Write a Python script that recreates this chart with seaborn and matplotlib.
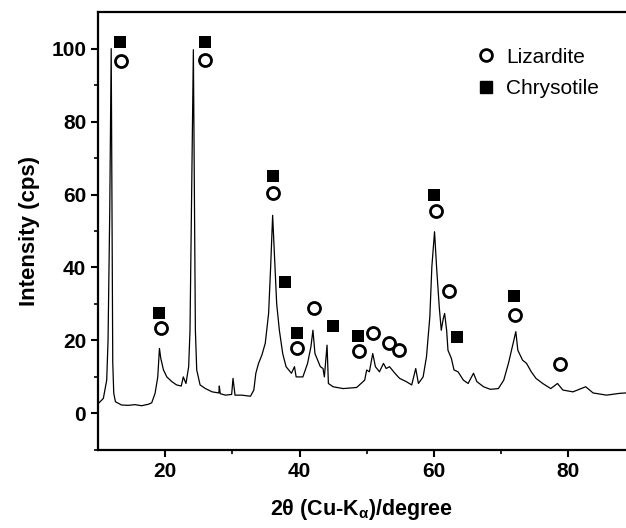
import numpy as np
import pandas as pd
import matplotlib
matplotlib.use("Agg")
import matplotlib.pyplot as plt
from matplotlib.lines import Line2D
import seaborn as sns

# XRD pattern (2theta in degrees, intensity in cps)
two_theta = [10.0, 10.8, 11.3, 11.5, 11.75, 11.97, 12.2, 12.35, 12.6, 13.5, 14.5, 15.5, 16.5,
             17.5, 18.0, 18.5, 18.9, 19.15, 19.35, 19.75, 20.25, 21.0, 21.7, 22.4, 22.7,
             23.1, 23.5, 23.7, 24.2, 24.5, 24.7, 25.2, 26.0, 27.0, 28.0, 28.06, 28.2, 29.0,
             29.9, 30.1, 30.4, 31.4, 32.7, 33.2, 33.5, 33.9, 34.4, 34.9, 35.4, 35.7, 36.0,
             36.3, 36.6, 37.0, 37.5, 38.0, 38.8, 39.25, 39.5, 40.5, 41.2, 41.7, 42.0, 42.3,
             42.7, 43.1, 43.5, 43.7, 44.1, 44.3, 45.0, 46.5, 48.5, 49.7, 50.0, 50.4, 50.9,
             51.3, 51.9, 52.5, 52.9, 53.4, 54.2, 54.9, 55.9, 56.7, 57.3, 57.7, 58.4, 58.9,
             59.4, 59.7, 60.1, 60.4, 60.8, 61.1, 61.4, 61.6, 61.9, 62.1, 62.6, 63.0, 63.6,
             64.4, 65.1, 65.9, 66.4, 67.4, 68.4, 69.6, 70.4, 71.1, 71.8, 72.2, 72.5, 73.2,
             73.8, 74.5, 75.2, 76.2, 77.4, 78.4, 79.2, 80.7, 82.6, 83.7, 85.7, 87.7, 88.6]
intensity = [2.6, 4.1, 9.1, 20.0, 55.0, 100.0, 14.0, 5.5, 3.2, 2.3, 2.2, 2.4, 2.1,
             2.5, 2.9, 5.5, 10.0, 17.8, 15.1, 11.9, 10.0, 8.7, 7.8, 7.5, 10.0,
             8.2, 12.8, 22.8, 99.7, 22.8, 11.9, 7.8, 6.8, 5.9, 5.6, 7.5, 5.4, 5.0,
             5.2, 9.6, 5.0, 5.0, 4.7, 6.4, 11.0, 13.7, 16.0, 19.2, 27.4, 40.0, 54.3,
             42.0, 30.1, 22.8, 16.4, 12.8, 11.0, 12.8, 10.0, 10.0, 13.7, 18.3, 22.8, 16.4,
             14.6, 12.8, 12.3, 10.0, 18.7, 8.2, 7.3, 6.8, 7.1, 9.1, 11.9, 11.4, 16.4,
             12.8, 11.4, 13.7, 12.3, 12.8, 11.0, 9.6, 8.7, 7.8, 12.3, 8.2, 10.0, 15.5,
             26.5, 40.2, 49.8, 40.2, 29.2, 22.8, 26.0, 27.4, 22.8, 17.3, 15.1, 11.9, 11.4,
             9.1, 8.2, 11.0, 8.7, 7.3, 6.6, 6.8, 9.1, 13.7, 19.2, 22.4, 17.3, 14.6,
             13.7, 11.4, 9.6, 8.2, 6.8, 8.2, 6.4, 5.9, 7.3, 5.6, 5.0, 5.5, 5.6]

# Phase markers
liz_x = [13.5, 26.0, 19.36, 36.1, 39.6, 42.2, 48.9, 50.9, 53.3, 54.8, 60.25, 62.2, 72.1, 78.8]
liz_y = [96.6, 97.0, 23.3, 60.3, 18.0, 29.0, 17.2, 21.9, 19.2, 17.3, 55.4, 33.5, 27.1, 13.5]
chr_x = [13.24, 26.0, 19.1, 36.0, 37.9, 39.6, 45.0, 48.7, 60.0, 63.5, 72.0]
chr_y = [101.8, 101.8, 27.6, 65.1, 36.1, 22.1, 24.0, 21.3, 60.0, 21.0, 32.1]

x_ticks = [20, 40, 60, 80]
y_ticks = [0, 20, 40, 60, 80, 100]

sns.set_theme(style="ticks")
plt.rcParams["font.family"] = ["Liberation Sans", "DejaVu Sans"]
plt.rcParams["mathtext.fontset"] = "custom"
plt.rcParams["mathtext.rm"] = "Liberation Sans:bold"
plt.rcParams["mathtext.it"] = "Liberation Sans:bold"
plt.rcParams["mathtext.bf"] = "Liberation Sans:bold"
plt.rcParams["text.color"] = "black"
plt.rcParams["axes.labelcolor"] = "black"
plt.rcParams["xtick.color"] = "black"
plt.rcParams["ytick.color"] = "black"
plt.rcParams["axes.edgecolor"] = "black"

fig = plt.figure(figsize=(6.26, 5.28), dpi=100)
ax = fig.add_axes([0.1565, 0.148, 0.8435, 0.829])

spec = pd.DataFrame({"x": two_theta, "y": intensity})
sns.lineplot(data=spec, x="x", y="y", ax=ax, color="black", linewidth=0.9,
             sort=False, estimator=None)

liz = pd.DataFrame({"x": liz_x, "y": liz_y})
chy = pd.DataFrame({"x": chr_x, "y": chr_y})
sns.scatterplot(data=liz, x="x", y="y", ax=ax, marker="o", s=75,
                facecolor="white", edgecolor="black", linewidth=2.0, zorder=5)
sns.scatterplot(data=chy, x="x", y="y", ax=ax, marker="s", s=70,
                color="black", edgecolor="black", linewidth=0, zorder=5)

ax.set_xlim(10, 88.6)
ax.set_ylim(-10, 110)
ax.set_xticks(x_ticks)
ax.set_yticks(y_ticks)
ax.set_xticks([30, 50, 70], minor=True)
ax.set_yticks([-10, 10, 30, 50, 70, 90], minor=True)
ax.tick_params(axis="both", which="major", direction="out", length=5, width=1.5,
               labelsize=15, colors="black")
ax.tick_params(axis="both", which="minor", direction="out", length=3, width=1.2,
               colors="black")
for lab in ax.get_xticklabels() + ax.get_yticklabels():
    lab.set_fontweight("bold")

for side in ["left", "bottom", "top"]:
    ax.spines[side].set_visible(True)
    ax.spines[side].set_linewidth(1.6)
    ax.spines[side].set_color("black")
ax.spines["right"].set_visible(False)

ax.set_xlabel(r"2θ (Cu-K$_\alpha$)/degree", fontsize=15.5, fontweight="bold", labelpad=12)
ax.set_ylabel("Intensity (cps)", fontsize=16, fontweight="bold", labelpad=8)

handles = [
    Line2D([], [], linestyle="none", marker="o", markersize=8.5, markerfacecolor="white",
           markeredgecolor="black", markeredgewidth=2.0),
    Line2D([], [], linestyle="none", marker="s", markersize=8, color="black"),
]
ax.legend(handles, ["Lizardite", "Chrysotile"], loc="upper left",
          bbox_to_anchor=(0.675, 0.962), frameon=False, fontsize=15,
          handletextpad=0.4, labelspacing=0.6, handlelength=1.2)

fig.savefig("out.png", dpi=100)
